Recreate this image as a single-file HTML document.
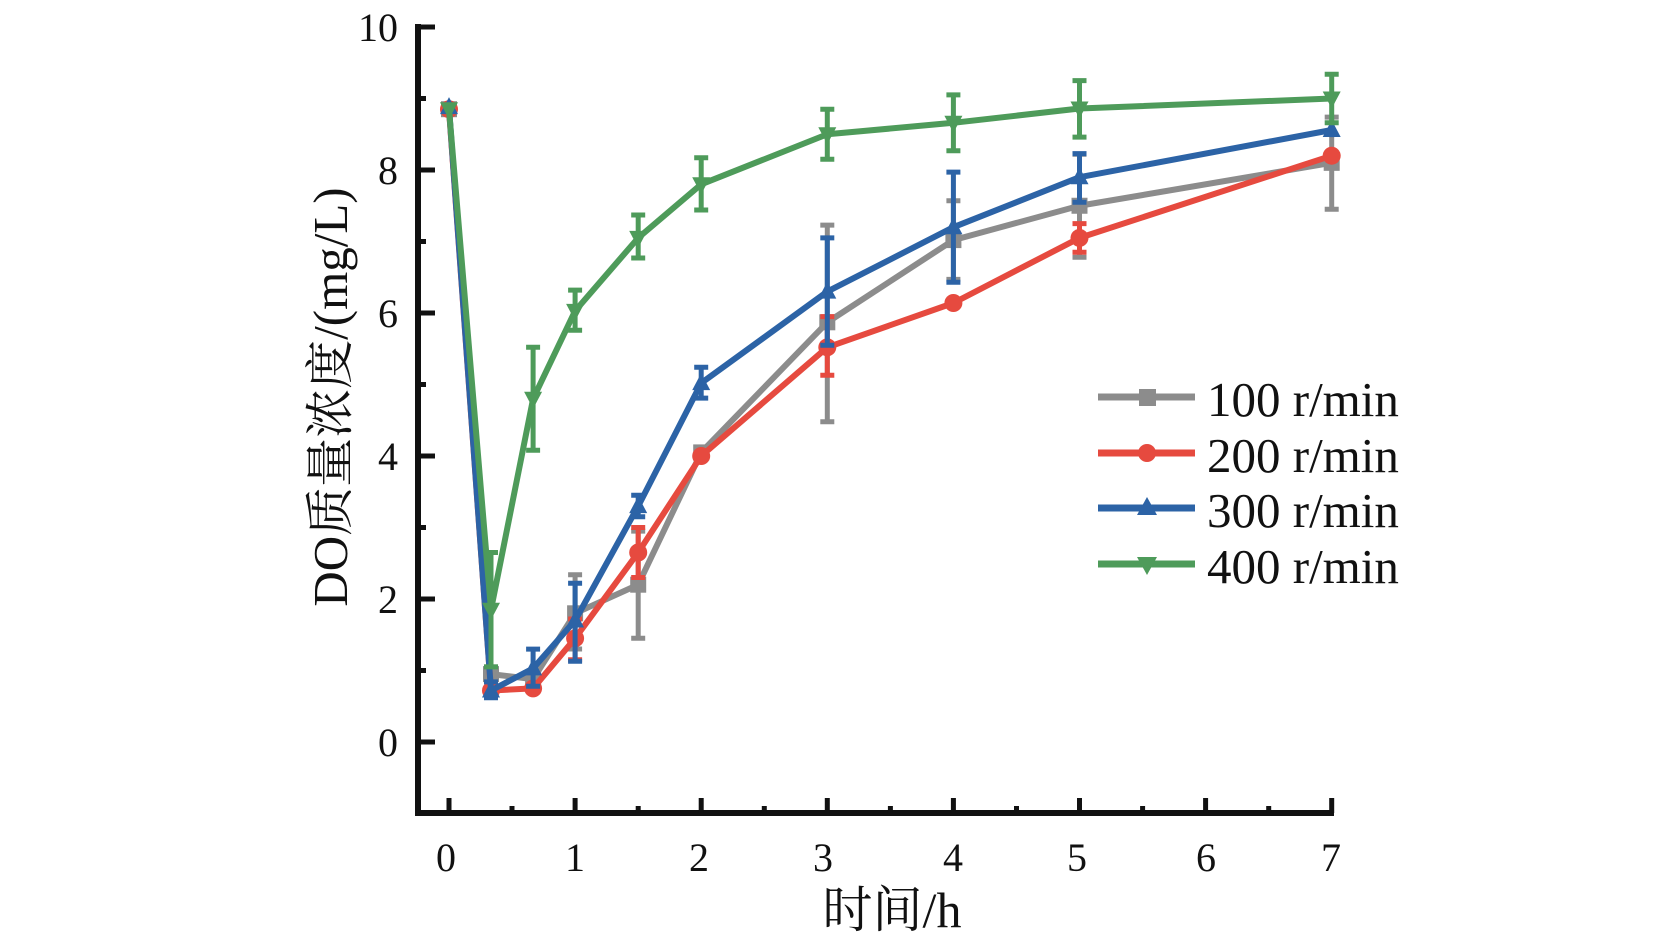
<!DOCTYPE html>
<html><head><meta charset="utf-8"><style>
html,body{margin:0;padding:0;background:#fff;}
svg{display:block;}
text{font-family:"Liberation Serif","Noto Serif CJK SC",serif;fill:#111;}
</style></head><body>
<svg width="1654" height="948" viewBox="0 0 1654 948" xmlns="http://www.w3.org/2000/svg">
<rect width="1654" height="948" fill="#fff"/>
<!-- axes -->
<g stroke="#111" fill="none">
<line x1="418" y1="24" x2="418" y2="816" stroke-width="6"/>
<line x1="415" y1="813" x2="1334" y2="813" stroke-width="6"/>
<g stroke-width="5">
<line x1="418" y1="742" x2="435" y2="742"/><line x1="418" y1="599" x2="435" y2="599"/>
<line x1="418" y1="456" x2="435" y2="456"/><line x1="418" y1="313" x2="435" y2="313"/>
<line x1="418" y1="170" x2="435" y2="170"/><line x1="418" y1="27" x2="435" y2="27"/>
<line x1="418" y1="670.5" x2="426" y2="670.5"/><line x1="418" y1="527.5" x2="426" y2="527.5"/>
<line x1="418" y1="384.5" x2="426" y2="384.5"/><line x1="418" y1="241.5" x2="426" y2="241.5"/>
<line x1="418" y1="98.5" x2="426" y2="98.5"/>
<line x1="449" y1="813" x2="449" y2="798"/><line x1="575.1" y1="813" x2="575.1" y2="798"/>
<line x1="701.2" y1="813" x2="701.2" y2="798"/><line x1="827.3" y1="813" x2="827.3" y2="798"/>
<line x1="953.4" y1="813" x2="953.4" y2="798"/><line x1="1079.5" y1="813" x2="1079.5" y2="798"/>
<line x1="1205.6" y1="813" x2="1205.6" y2="798"/><line x1="1331.7" y1="813" x2="1331.7" y2="798"/>
<line x1="512" y1="813" x2="512" y2="806"/><line x1="638.2" y1="813" x2="638.2" y2="806"/>
<line x1="764.3" y1="813" x2="764.3" y2="806"/><line x1="890.4" y1="813" x2="890.4" y2="806"/>
<line x1="1016.5" y1="813" x2="1016.5" y2="806"/><line x1="1142.6" y1="813" x2="1142.6" y2="806"/>
<line x1="1268.7" y1="813" x2="1268.7" y2="806"/>
</g>
</g>
<!-- tick labels -->
<g font-size="40" text-anchor="end">
<text x="398" y="756">0</text><text x="398" y="613">2</text><text x="398" y="470">4</text>
<text x="398" y="327">6</text><text x="398" y="184">8</text><text x="398" y="41">10</text>
</g>
<g font-size="40" text-anchor="middle">
<text x="446" y="871">0</text><text x="575" y="871">1</text><text x="699" y="871">2</text>
<text x="823" y="871">3</text><text x="953" y="871">4</text><text x="1077" y="871">5</text>
<text x="1206" y="871">6</text><text x="1331" y="871">7</text>
</g>
<text font-size="49" text-anchor="middle" transform="translate(347,397) rotate(-90)">DO质量浓度/(mg/L)</text>
<text font-size="50" text-anchor="middle" x="892" y="927">时间/h</text>

<!-- gray 100 -->
<g stroke="#8c8c8c" fill="none" stroke-width="5">
<path d="M449 105.6V112.8M491 681.2V666.9M484 681.2H498M484 666.9H498M533.1 684.8V673.4M575.1 649.05V574.7M568.1 649.05H582.1M568.1 574.7H582.1M638.2 638.3V531.1M631.2 638.3H645.2M631.2 531.1H645.2M701.2 459.6V445.3M827.3 421.7V225.1M820.3 421.7H834.3M820.3 225.1H834.3M953.4 279.4V200.7M946.4 279.4H960.4M946.4 200.7H960.4M1079.5 257.2V154.3M1072.5 257.2H1086.5M1072.5 154.3H1086.5M1331.7 209.3V117.1M1324.7 209.3H1338.7M1324.7 117.1H1338.7"/>
<polyline stroke-width="6" stroke-linejoin="round" points="449,109.2 491,674.1 533.1,679.1 575.1,613.3 638.2,584.7 701.2,452.4 827.3,322.3 953.4,240.1 1079.5,205.75 1331.7,162.85"/>
</g>
<g fill="#8c8c8c">
<rect x="441" y="101.2" width="16" height="16"/><rect x="483" y="666.1" width="16" height="16"/>
<rect x="525.1" y="671.1" width="16" height="16"/><rect x="567.1" y="605.3" width="16" height="16"/>
<rect x="630.2" y="576.7" width="16" height="16"/><rect x="693.2" y="444.4" width="16" height="16"/>
<rect x="819.3" y="314.3" width="16" height="16"/><rect x="945.4" y="232.1" width="16" height="16"/>
<rect x="1071.5" y="197.75" width="16" height="16"/><rect x="1323.7" y="154.85" width="16" height="16"/>
</g>

<!-- red 200 -->
<g stroke="#e64a3f" fill="none" stroke-width="5">
<path d="M491 694.1V686.9M533.1 694.1V682.7M575.1 659.8V619M568.1 659.8H582.1M568.1 619H582.1M638.2 577.5V527.5M631.2 577.5H645.2M631.2 527.5H645.2M701.2 461.7V450.3M827.3 375.2V316.6M820.3 375.2H834.3M820.3 316.6H834.3M953.4 308.7V297.3M1079.5 252.2V223.6M1072.5 252.2H1086.5M1072.5 223.6H1086.5M1331.7 162.9V148.5"/>
<polyline stroke-width="6" stroke-linejoin="round" points="449,109.2 491,690.5 533.1,688.4 575.1,638.3 638.2,552.5 701.2,456 827.3,347.3 953.4,303 1079.5,237.9 1331.7,155.7"/>
</g>
<g fill="#e64a3f">
<circle cx="449" cy="109.2" r="9"/><circle cx="491" cy="690.5" r="9"/><circle cx="533.1" cy="688.4" r="9"/>
<circle cx="575.1" cy="638.3" r="9"/><circle cx="638.2" cy="552.5" r="9"/><circle cx="701.2" cy="456" r="9"/>
<circle cx="827.3" cy="347.3" r="9"/><circle cx="953.4" cy="303" r="9"/><circle cx="1079.5" cy="237.9" r="9"/>
<circle cx="1331.7" cy="155.7" r="9"/>
</g>

<!-- blue 300 -->
<g stroke="#2c63a6" fill="none" stroke-width="5">
<path d="M491 697.7V681.9M484 697.7H498M484 681.9H498M533.1 686.2V649.1M526.1 686.2H540.1M526.1 649.1H540.1M575.1 661.2V583.3M568.1 661.2H582.1M568.1 583.3H582.1M638.2 516.8V495.3M631.2 516.8H645.2M631.2 495.3H645.2M701.2 398.1V367.3M694.2 398.1H708.2M694.2 367.3H708.2M827.3 345.2V237.9M820.3 345.2H834.3M820.3 237.9H834.3M953.4 282.3V172.1M946.4 282.3H960.4M946.4 172.1H960.4M1079.5 202.2V153.6M1072.5 202.2H1086.5M1072.5 153.6H1086.5M1331.7 137.1V122.8"/>
<polyline stroke-width="6" stroke-linejoin="round" points="449,107.1 491,690.5 533.1,668.4 575.1,620.5 638.2,506.1 701.2,383.1 827.3,291.6 953.4,227.2 1079.5,177.2 1331.7,130"/>
</g>
<g fill="#2c63a6">
<polygon points="449,97.1 440,114.1 458,114.1"/><polygon points="491,680.5 482,697.5 500,697.5"/>
<polygon points="533.1,658.4 524.1,675.4 542.1,675.4"/><polygon points="575.1,610.5 566.1,627.5 584.1,627.5"/>
<polygon points="638.2,496.1 629.2,513.1 647.2,513.1"/><polygon points="701.2,373.1 692.2,390.1 710.2,390.1"/>
<polygon points="827.3,281.6 818.3,298.6 836.3,298.6"/><polygon points="953.4,217.2 944.4,234.2 962.4,234.2"/>
<polygon points="1079.5,167.2 1070.5,184.2 1088.5,184.2"/><polygon points="1331.7,120 1322.7,137 1340.7,137"/>
</g>

<!-- green 400 -->
<g stroke="#4e9b5a" fill="none" stroke-width="5">
<path d="M491 666.9V552.5M484 666.9H498M484 552.5H498M533.1 450.3V347.3M526.1 450.3H540.1M526.1 347.3H540.1M575.1 330.2V290.1M568.1 330.2H582.1M568.1 290.1H582.1M638.2 258V215M631.2 258H645.2M631.2 215H645.2M701.2 210V157.8M694.2 210H708.2M694.2 157.8H708.2M827.3 159.3V109.2M820.3 159.3H834.3M820.3 109.2H834.3M953.4 150.7V94.9M946.4 150.7H960.4M946.4 94.9H960.4M1079.5 137.1V80.6M1072.5 137.1H1086.5M1072.5 80.6H1086.5M1331.7 122.8V74.2M1324.7 122.8H1338.7M1324.7 74.2H1338.7"/>
<polyline stroke-width="6" stroke-linejoin="round" points="449,109.2 491,609.7 533.1,398.8 575.1,310.9 638.2,237.9 701.2,184.3 827.3,134.25 953.4,122.8 1079.5,108.5 1331.7,98.5"/>
</g>
<g fill="#4e9b5a">
<polygon points="449,119.2 440,102.2 458,102.2"/><polygon points="491,619.7 482,602.7 500,602.7"/>
<polygon points="533.1,408.8 524.1,391.8 542.1,391.8"/><polygon points="575.1,320.9 566.1,303.9 584.1,303.9"/>
<polygon points="638.2,247.9 629.2,230.9 647.2,230.9"/><polygon points="701.2,194.3 692.2,177.3 710.2,177.3"/>
<polygon points="827.3,144.25 818.3,127.25 836.3,127.25"/><polygon points="953.4,132.8 944.4,115.8 962.4,115.8"/>
<polygon points="1079.5,118.5 1070.5,101.5 1088.5,101.5"/><polygon points="1331.7,108.5 1322.7,91.5 1340.7,91.5"/>
</g>

<!-- legend -->
<g stroke-width="7">
<line x1="1098" y1="397" x2="1195" y2="397" stroke="#8c8c8c"/>
<line x1="1098" y1="453" x2="1195" y2="453" stroke="#e64a3f"/>
<line x1="1098" y1="508" x2="1195" y2="508" stroke="#2c63a6"/>
<line x1="1098" y1="564" x2="1195" y2="564" stroke="#4e9b5a"/>
</g>
<rect x="1139" y="389" width="17" height="17" fill="#8c8c8c"/>
<circle cx="1147" cy="453" r="9" fill="#e64a3f"/>
<polygon points="1147,497 1137,515 1157,515" fill="#2c63a6"/>
<polygon points="1147,575 1137,557 1157,557" fill="#4e9b5a"/>
<g font-size="49">
<text x="1207" y="416">100 r/min</text>
<text x="1207" y="472">200 r/min</text>
<text x="1207" y="527">300 r/min</text>
<text x="1207" y="583">400 r/min</text>
</g>
</svg>
</body></html>
